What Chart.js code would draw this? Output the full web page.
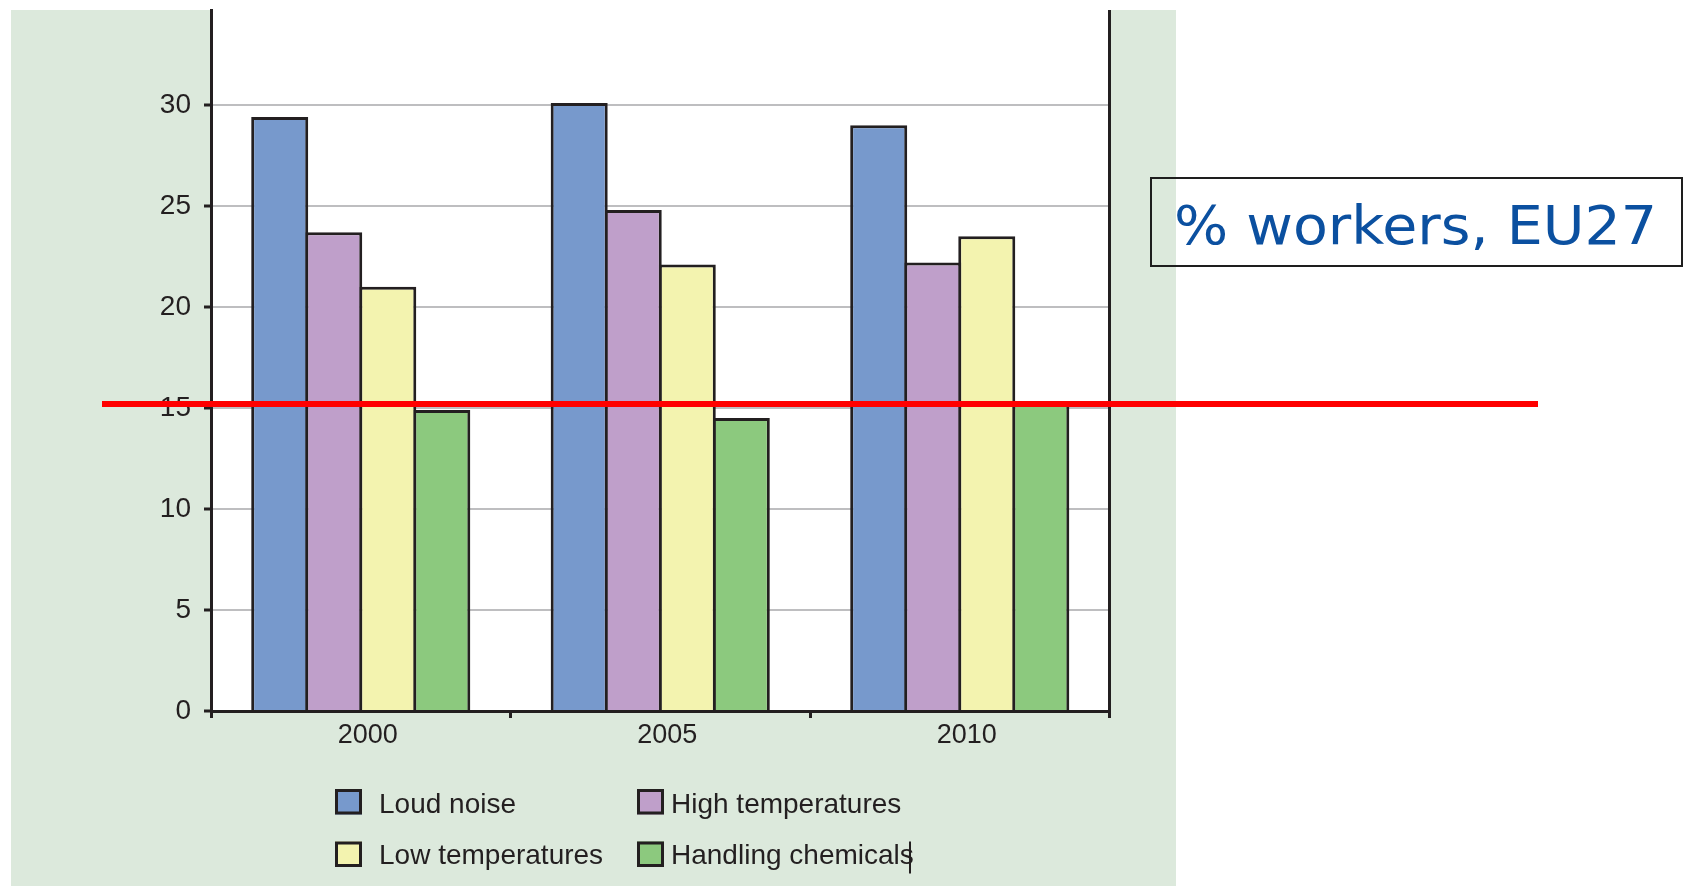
<!DOCTYPE html>
<html>
<head>
<meta charset="utf-8">
<script src="https://cdn.jsdelivr.net/npm/chart.js@4/dist/chart.umd.min.js"></script>
<style>
  html, body { margin: 0; padding: 0; background: #ffffff; }
  #wrap { position: relative; width: 1685px; height: 886px; }
  canvas { display: block; }
</style>
</head>
<body>
<div id="wrap"><canvas id="chart" width="1685" height="886"></canvas></div>
<script>
// Exposure to physical risk factors, % of workers, EU27
const years = ['2000', '2005', '2010'];
const seriesNames = ['Loud noise', 'High temperatures', 'Low temperatures', 'Handling chemicals'];
const loudNoise = [29.4, 30.1, 29.0];
const highTemperatures = [23.7, 24.8, 22.2];
const lowTemperatures = [21.0, 22.1, 23.5];
const handlingChemicals = [14.9, 14.5, 15.3];
const yTickValues = [0, 5, 10, 15, 20, 25, 30];
const referenceLevel = 15.2;
const boxCaption = '% workers, EU27';

const seriesColors = ['#7799cc', '#bf9fca', '#f3f3af', '#8cc97e'];
const ink = '#231f20';
const panelGreen = '#dce9dc';

const W = 1685, H = 886;

// Panel background, white plot area
const backgroundPlugin = {
  id: 'panelBackground',
  beforeDraw(chart) {
    const { ctx, chartArea: a } = chart;
    ctx.save();
    ctx.fillStyle = '#ffffff';
    ctx.fillRect(0, 0, W, H);
    ctx.fillStyle = panelGreen;
    ctx.fillRect(11, 10, 1165, H - 10);
    ctx.fillStyle = '#ffffff';
    ctx.fillRect(a.left, a.top, a.right - a.left, a.bottom - a.top);
    ctx.restore();
  }
};

// Right-hand frame line of the plot
const rightFramePlugin = {
  id: 'rightFrame',
  afterDatasetsDraw(chart) {
    const { ctx, chartArea: a } = chart;
    ctx.save();
    ctx.strokeStyle = ink;
    ctx.lineWidth = 3;
    ctx.beginPath();
    ctx.moveTo(a.right, a.top);
    ctx.lineTo(a.right, a.bottom);
    ctx.stroke();
    ctx.restore();
  }
};

// Red reference line, two-column legend, caption box
const overlayPlugin = {
  id: 'overlay',
  afterDraw(chart) {
    const { ctx, scales } = chart;
    ctx.save();

    // reference line across the plot and beyond
    const ry = scales.y.getPixelForValue(referenceLevel);
    ctx.strokeStyle = '#ff0000';
    ctx.lineWidth = 6;
    ctx.beginPath();
    ctx.moveTo(102, ry);
    ctx.lineTo(1538, ry);
    ctx.stroke();

    // legend
    const cols = [{ box: 335, text: 379 }, { box: 637, text: 671 }];
    const rows = [{ top: 789, base: 812.5 }, { top: 841.5, base: 863.5 }];
    ctx.font = '28px "Liberation Sans", Arial, sans-serif';
    ctx.textBaseline = 'alphabetic';
    ctx.textAlign = 'left';
    let lastEnd = null;
    chart.data.datasets.forEach((ds, i) => {
      const c = cols[i % 2], r = rows[Math.floor(i / 2)];
      ctx.fillStyle = ds.backgroundColor;
      ctx.fillRect(c.box, r.top, 27, 25.5);
      ctx.strokeStyle = ink;
      ctx.lineWidth = 3;
      ctx.strokeRect(c.box + 1.5, r.top + 1.5, 24, 22.5);
      ctx.fillStyle = ink;
      ctx.fillText(ds.label, c.text, r.base);
      lastEnd = { x: c.text + ctx.measureText(ds.label).width, top: r.top };
    });
    // text cursor after the last legend entry
    if (lastEnd) {
      ctx.fillStyle = ink;
      ctx.fillRect(Math.round(lastEnd.x) - 5, lastEnd.top, 2, 32);
    }

    // caption box
    ctx.strokeStyle = '#1e1e1e';
    ctx.lineWidth = 2;
    ctx.strokeRect(1151, 178, 531, 88);
    ctx.font = '53px "DejaVu Sans", Verdana, sans-serif';
    ctx.fillStyle = '#0b50a0';
    const tw = ctx.measureText(boxCaption).width;
    ctx.translate(1174, 243.5);
    ctx.scale(483 / tw, 1);
    ctx.fillText(boxCaption, 0, 0);
    ctx.restore();
  }
};

const seriesValues = [loudNoise, highTemperatures, lowTemperatures, handlingChemicals];

const data = {
  labels: years,
  datasets: seriesNames.map((name, i) => ({
    label: name,
    data: seriesValues[i],
    backgroundColor: seriesColors[i],
    borderColor: ink,
    borderWidth: 3,
    borderSkipped: 'start',
    inflateAmount: 0,
    categoryPercentage: 0.7216,
    barPercentage: 1.0556
  }))
};

Chart.defaults.font.family = '"Liberation Sans", Arial, sans-serif';

new Chart(document.getElementById('chart'), {
  type: 'bar',
  data,
  plugins: [backgroundPlugin, rightFramePlugin, overlayPlugin],
  options: {
    responsive: false,
    devicePixelRatio: 1,
    animation: false,
    layout: { padding: { left: 0, top: 10, right: W - 1109.5, bottom: H - 711 - 50 } },
    plugins: {
      legend: { display: false },
      title: { display: false },
      tooltip: { enabled: false }
    },
    scales: {
      x: {
        offset: true,
        grid: {
          display: true,
          offset: true,
          drawOnChartArea: false,
          drawTicks: true,
          tickLength: 7,
          tickWidth: 3,
          tickColor: ink,
          lineWidth: 3,
          color: ink
        },
        border: { display: true, color: ink, width: 3 },
        ticks: {
          color: ink,
          font: { size: 27 },
          padding: 1,
          labelOffset: 7,
          maxRotation: 0
        },
        afterFit(scale) {
          scale.height = 50;
          scale.paddingLeft = 0;
          scale.paddingRight = 0;
        }
      },
      y: {
        min: 0,
        max: 34.7,
        afterBuildTicks(scale) {
          scale.ticks = yTickValues.map(v => ({ value: v }));
        },
        grid: {
          color: '#bebec0',
          lineWidth: 2,
          tickLength: 7,
          tickWidth: 3,
          tickColor: ink,
          drawTicks: true
        },
        border: { display: true, color: ink, width: 3 },
        ticks: {
          color: ink,
          font: { size: 28 },
          padding: 13
        },
        afterFit(scale) {
          scale.width = 211;
          scale.paddingTop = 0;
          scale.paddingBottom = 0;
        }
      }
    }
  }
});
</script>
</body>
</html>
